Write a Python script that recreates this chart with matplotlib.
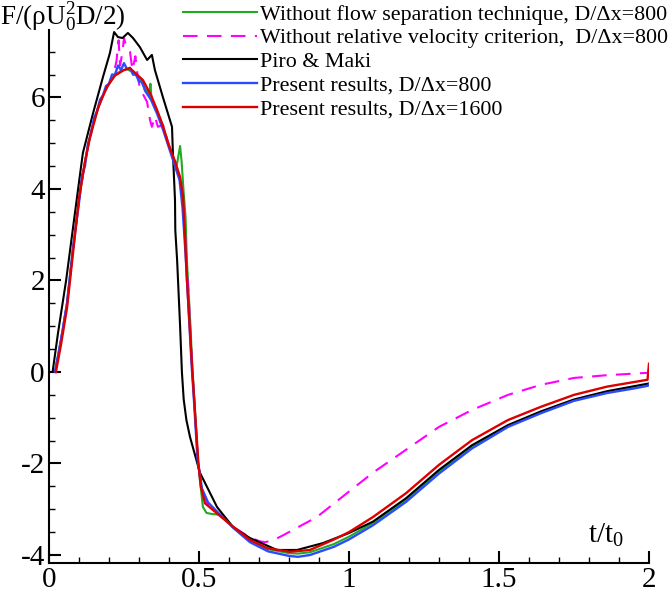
import numpy as np
import matplotlib
matplotlib.use("Agg")
import matplotlib.pyplot as plt
from matplotlib.ticker import MultipleLocator, FixedLocator

plt.rcParams['font.family'] = ['Liberation Serif', 'DejaVu Serif']
plt.rcParams['mathtext.fontset'] = 'custom'
plt.rcParams['mathtext.rm'] = 'Liberation Serif'
plt.rcParams['mathtext.it'] = 'Liberation Serif:italic'
plt.rcParams['axes.unicode_minus'] = False

# Without flow separation technique, D/dx=800 (green)
t_green = [0.02, 0.04, 0.06, 0.08, 0.10, 0.12, 0.14, 0.16, 0.18, 0.20, 0.22, 0.24, 0.26, 0.28,
           0.30, 0.32, 0.335, 0.338, 0.342, 0.36, 0.38, 0.40, 0.42, 0.426, 0.432, 0.437, 0.442,
           0.448, 0.455, 0.46, 0.47, 0.478, 0.487, 0.496, 0.503, 0.513, 0.525, 0.54, 0.58, 0.613,
           0.67, 0.73, 0.80, 0.83, 0.87, 0.95, 1.0, 1.08, 1.19, 1.30, 1.41, 1.53, 1.64, 1.75,
           1.86, 1.95, 2.0]
F_green = [0.0, 0.7, 1.5, 2.7, 3.75, 4.6, 5.25, 5.7, 6.05, 6.3, 6.5, 6.58, 6.62, 6.55,
           6.42, 6.2, 6.05, 6.3, 5.95, 5.7, 5.35, 4.95, 4.6, 4.52, 4.75, 4.94, 4.6,
           4.0, 3.4, 2.4, 1.2, 0.1, -0.9, -1.9, -2.36, -2.95, -3.08, -3.1, -3.13, -3.38,
           -3.68, -3.87, -3.96, -3.97, -3.94, -3.76, -3.6, -3.3, -2.8, -2.18, -1.63, -1.18, -0.88, -0.62,
           -0.44, -0.33, -0.27]

# Without relative velocity criterion, D/dx=800 (magenta dashed)
t_mag = [0.02, 0.04, 0.06, 0.08, 0.10, 0.12, 0.14, 0.16, 0.18, 0.20, 0.215, 0.225, 0.232, 0.237,
         0.245, 0.25, 0.258, 0.265, 0.27, 0.278, 0.288, 0.295, 0.303, 0.315, 0.327, 0.337, 0.343,
         0.353, 0.363, 0.38, 0.40, 0.42, 0.44, 0.45, 0.46, 0.47, 0.478, 0.488, 0.497, 0.51, 0.53,
         0.56, 0.613, 0.67, 0.703, 0.72, 0.75, 0.78, 0.893, 0.993, 1.08, 1.19, 1.30, 1.41, 1.53,
         1.64, 1.75, 1.86, 1.99, 2.0]
F_mag = [0.0, 0.7, 1.5, 2.7, 3.75, 4.6, 5.25, 5.7, 6.05, 6.3, 6.5, 6.8, 7.25, 6.7,
         7.0, 7.3, 7.1, 7.05, 7.0, 6.6, 6.9, 6.5, 6.2, 6.05, 5.9, 5.5, 5.36,
         5.58, 5.36, 5.4, 4.95, 4.55, 4.1, 3.4, 2.3, 1.1, 0.0, -1.0, -2.0, -2.6, -2.9,
         -3.08, -3.38, -3.62, -3.7, -3.72, -3.67, -3.57, -3.17, -2.65, -2.2, -1.7, -1.2, -0.83, -0.5,
         -0.28, -0.13, -0.07, -0.02, -0.02]

# Piro & Maki (black)
t_piro = [0.012, 0.03, 0.057, 0.077, 0.097, 0.113, 0.147, 0.18, 0.203, 0.217, 0.23, 0.245,
          0.263, 0.28, 0.303, 0.327, 0.343, 0.353, 0.38, 0.41, 0.413, 0.42, 0.421, 0.427, 0.437,
          0.443, 0.449, 0.458, 0.47, 0.503, 0.56, 0.613, 0.67, 0.76, 0.827, 0.913, 1.0, 1.08, 1.19,
          1.30, 1.41, 1.53, 1.64, 1.75, 1.86, 1.95, 2.0]
F_piro = [0.0, 0.85, 2.0, 3.0, 4.0, 4.79, 5.66, 6.45, 6.97, 7.43, 7.32, 7.3,
          7.41, 7.3, 7.1, 6.82, 6.93, 6.6, 6.0, 5.36, 4.79, 3.76, 3.1, 2.45, 1.0,
          0.0, -0.6, -1.05, -1.42, -2.2, -2.95, -3.39, -3.63, -3.89, -3.89, -3.74, -3.52, -3.27, -2.76,
          -2.14, -1.6, -1.16, -0.86, -0.6, -0.42, -0.31, -0.25]

# Present results, D/dx=800 (blue)
t_blue = [0.02, 0.04, 0.06, 0.08, 0.10, 0.11, 0.12, 0.13, 0.14, 0.15, 0.16, 0.17, 0.18, 0.19,
          0.20, 0.21, 0.22, 0.23, 0.24, 0.25, 0.26, 0.27, 0.28, 0.29, 0.30, 0.31, 0.32, 0.34,
          0.36, 0.38, 0.40, 0.42, 0.435, 0.445, 0.455, 0.465, 0.475, 0.485, 0.495, 0.51, 0.53,
          0.56, 0.613, 0.67, 0.73, 0.80, 0.83, 0.87, 0.95, 1.0, 1.08, 1.19, 1.30, 1.41, 1.53,
          1.64, 1.75, 1.86, 1.95, 1.997, 2.0]
F_blue = [0.0, 0.7, 1.5, 2.7, 3.7, 4.3, 4.5, 5.0, 5.2, 5.55, 5.7, 5.95, 6.05, 6.25,
          6.3, 6.5, 6.5, 6.7, 6.6, 6.75, 6.62, 6.65, 6.5, 6.5, 6.35, 6.35, 6.15, 5.95,
          5.65, 5.3, 4.9, 4.5, 4.2, 3.6, 2.6, 1.4, 0.2, -0.8, -1.9, -2.55, -2.85,
          -3.05, -3.4, -3.72, -3.92, -4.02, -4.04, -4.0, -3.82, -3.66, -3.35, -2.84, -2.22, -1.67, -1.2,
          -0.9, -0.63, -0.46, -0.36, -0.3, -0.27]

# Present results, D/dx=1600 (red)
t_red = [0.023, 0.04, 0.06, 0.08, 0.10, 0.12, 0.137, 0.165, 0.193, 0.22, 0.25, 0.27, 0.29,
         0.313, 0.34, 0.36, 0.38, 0.397, 0.42, 0.437, 0.447, 0.46, 0.478, 0.487, 0.498, 0.506,
         0.52, 0.56, 0.613, 0.67, 0.727, 0.803, 0.87, 0.947, 1.0, 1.08, 1.19, 1.30, 1.41, 1.53,
         1.64, 1.75, 1.86, 1.995, 2.0]
F_red = [0.0, 0.6, 1.4, 2.6, 3.8, 4.6, 5.14, 5.8, 6.23, 6.48, 6.6, 6.64, 6.52,
         6.38, 6.05, 5.73, 5.38, 5.0, 4.6, 4.26, 3.83, 2.0, 0.0, -0.9, -2.0, -2.5,
         -2.87, -3.09, -3.38, -3.67, -3.85, -3.93, -3.89, -3.67, -3.5, -3.17, -2.65, -2.03, -1.49, -1.05,
         -0.76, -0.5, -0.32, -0.17, 0.18]

fig = plt.figure(figsize=(6.72, 5.96), dpi=100)
ax = fig.add_axes([49/672, 1 - 563/596, 600/672, 533/596])

ax.plot(t_green, F_green, color='#1faa1f', lw=1.5, label='Without flow separation technique, D/\u0394x=800')
ax.plot(t_mag, F_mag, color='#ff00ff', lw=1.5, dashes=(7, 4.5),
        label='Without relative velocity criterion,  D/\u0394x=800')
ax.plot(t_piro, F_piro, color='black', lw=1.5, label='Piro & Maki')
ax.plot(t_blue, F_blue, color='#2b4bff', lw=1.7, label='Present results, D/\u0394x=800')
ax.plot(t_red, F_red, color='#dd0000', lw=1.7, label='Present results, D/\u0394x=1600')

ax.set_xlim(0, 2)
ax.set_ylim(-4.175, 7.475)
ax.spines['top'].set_visible(False)
ax.spines['right'].set_visible(False)
ax.spines['left'].set_linewidth(1.5)
ax.spines['bottom'].set_linewidth(1.5)

ax.xaxis.set_major_locator(FixedLocator([0, 0.5, 1, 1.5, 2]))
ax.set_xticklabels(['0', '0.5', '1', '1.5', '2'])
ax.xaxis.set_minor_locator(MultipleLocator(0.1))
ax.yaxis.set_major_locator(FixedLocator([-4, -2, 0, 2, 4, 6]))
ax.set_yticklabels(['-4', '-2', '0', '2', '4', '6'])
ax.yaxis.set_minor_locator(MultipleLocator(0.5))
ax.tick_params(which='major', direction='in', length=8.5, width=1.5, labelsize=21, pad=3)
ax.tick_params(which='minor', direction='in', length=4.5, width=1.0)

ax.text(1.795, -3.74, 't/t$_0$', fontsize=21, va='baseline', ha='left')
fig.text(0.0, 1 - 25/596, 'F/(\u03c1$\\mathrm{U}_0^2$D/2)', fontsize=19.5, va='baseline', ha='left')

ax.legend(loc='upper right', bbox_to_anchor=(1.0, 1.0), bbox_transform=fig.transFigure,
          frameon=False, fontsize=15.8, handlelength=3.4, handletextpad=0.1,
          labelspacing=0.15, borderpad=0.2, borderaxespad=0.0)

fig.savefig('out.png', dpi=100)
